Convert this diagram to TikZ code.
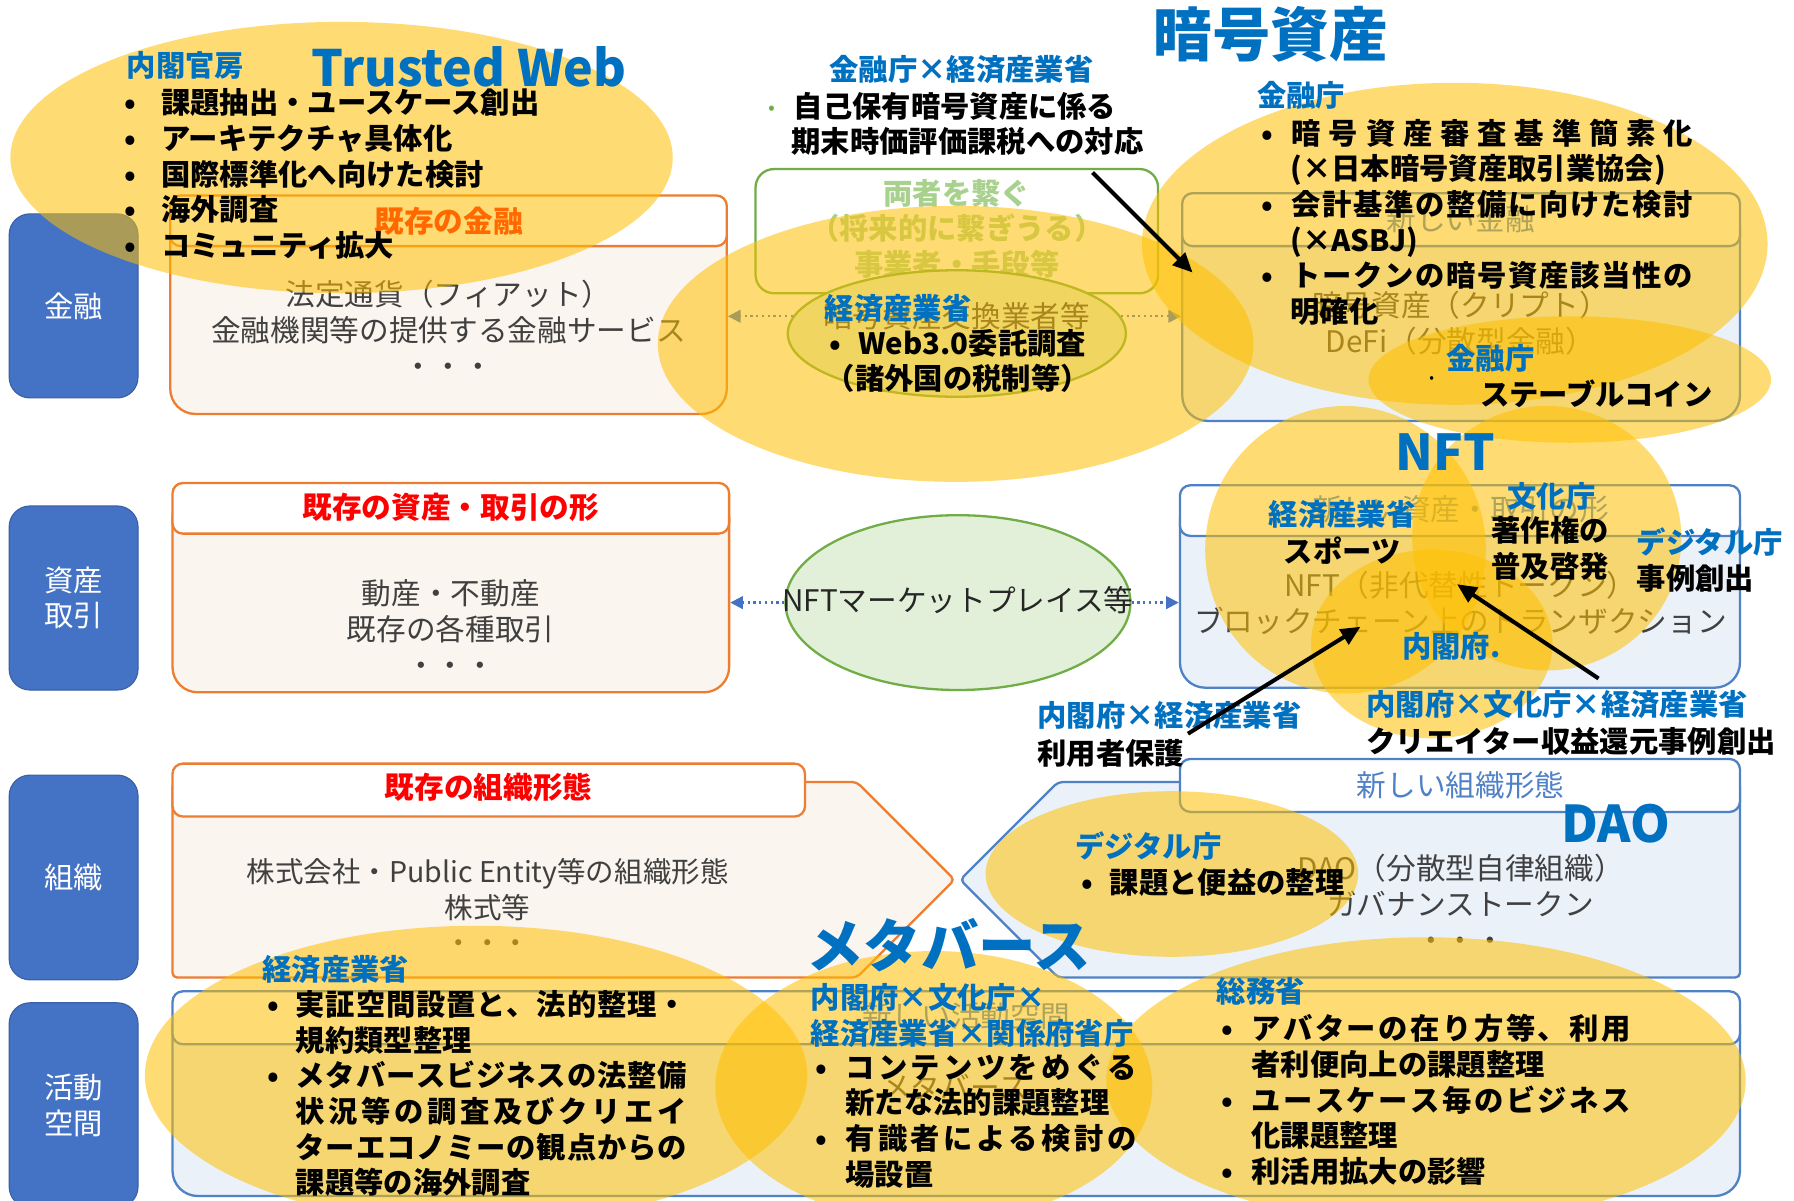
\documentclass[tikz,border=0pt]{standalone}
\usepackage{fontspec}
\setmainfont{Noto Sans CJK JP}
\usetikzlibrary{arrows.meta,shapes.geometric}
\definecolor{catblue}{HTML}{4472C4}
\definecolor{oorange}{HTML}{ED7D31}
\definecolor{beige}{HTML}{FBF5EF}
\definecolor{lblue}{HTML}{EAF1F9}
\definecolor{nblue}{HTML}{4F81C7}
\definecolor{tblue}{HTML}{0070C0}
\definecolor{gold}{HTML}{FFC000}
\definecolor{ggreen}{HTML}{70AD47}
\definecolor{lgreen}{HTML}{E2F0D9}
\definecolor{gtext}{HTML}{A9D18E}
\definecolor{dgray}{HTML}{404040}
\definecolor{rred}{HTML}{FF0000}
\definecolor{dotgreen}{HTML}{70AD47}
\newcommand\fsz[1]{\fontsize{#1}{31}\selectfont}
\newcommand\bl[1][26pt]{\makebox[#1][l]{•}}
\newcommand\ind[1][26pt]{\hspace*{#1}}
\makeatletter
\newcommand\spr[2]{\makebox[#1][s]{\spr@a#2\@nil}}
\def\spr@a#1#2\@nil{#1\ifx\relax#2\relax\else\hfil\spr@a#2\@nil\fi}
\makeatother
\tikzset{
  catbox/.style={rounded corners=18pt, fill=catblue, draw=catblue!85!black, line width=1pt, text=white, font=\fsz{25.5}, align=center, inner sep=0pt},
  oldbody/.style={draw=oorange, line width=2pt, fill=beige, rounded corners=22pt, inner sep=0pt},
  oldhead/.style={draw=oorange, line width=2pt, fill=white, rounded corners=9pt, inner sep=0pt},
  newbody/.style={draw=nblue, line width=2pt, fill=lblue, rounded corners=22pt, inner sep=0pt},
  newhead/.style={draw=nblue, line width=2pt, fill=white, rounded corners=9pt, inner sep=0pt},
  boxtxt/.style={text=dgray, font=\fsz{25.8}, align=center, inner sep=0pt},
  redtxt/.style={text=rred, font=\fsz{25.8}\bfseries, inner sep=0pt},
  newtxt/.style={text=nblue, font=\fsz{25.8}, inner sep=0pt},
  goldell/.style={ellipse, fill=gold, fill opacity=0.55, draw=none, inner sep=0pt},
  gell/.style={ellipse, draw=ggreen, line width=2pt, fill=lgreen, inner sep=0pt},
  lbl/.style={text=tblue, font=\fsz{25.5}\bfseries, inner sep=0pt},
  btxt/.style={text=black, font=\fsz{25.5}\bfseries, inner sep=0pt, align=left},
  bigt/.style={text=tblue, inner sep=0pt},
  blk/.style={line width=3.5pt, -{Triangle[length=17pt,width=15pt]}},
  dotar/.style={draw=catblue, line width=2pt, dash pattern=on 2pt off 3pt, -{Triangle[length=11pt,width=11pt]}}
}
\begin{document}
\begin{tikzpicture}[x=1pt,y=-1pt]
\path[use as bounding box, clip] (0,0) rectangle (1560,1044);
\fill[white] (0,0) rectangle (1560,1044);

% category boxes
\node[catbox, minimum width=112, minimum height=160] (catFin) at (64,266) {金融};
\node[catbox, minimum width=112, minimum height=160] (catAsset) at (64,520) {資産\\取引};
\node[catbox, minimum width=112, minimum height=178] (catOrg) at (64,763) {組織};
\node[catbox, minimum width=112, minimum height=178] (catSpace) at (64,961) {活動\\空間};

% existing boxes
\node[oldbody, minimum width=484, minimum height=184] (finOldBody) at (390,268) {};
\node[oldhead, minimum width=484, minimum height=44] (finOldHead) at (390,192) {};
\node[oldbody, minimum width=484, minimum height=174] (assetOldBody) at (392,515) {};
\node[oldhead, minimum width=484, minimum height=44] (assetOldHead) at (392,442) {};
\draw[oldbody, rounded corners=4pt] (150,700) -- (150,850) -- (745,850) -- (830,765) -- (745,680) -- (150,680) -- cycle;
\node[oldhead, minimum width=550, minimum height=46] (orgOldHead) at (425,687) {};

% new boxes
\node[newbody, minimum width=485, minimum height=190] (finNewBody) at (1270.5,271) {};
\node[newhead, minimum width=485, minimum height=46] (finNewHead) at (1270.5,191) {};
\node[newbody, minimum width=487, minimum height=168] (assetNewBody) at (1269.5,514) {};
\node[newhead, minimum width=487, minimum height=44] (assetNewHead) at (1269.5,444) {};
\draw[newbody, rounded corners=4pt] (920,680) -- (1513,680) -- (1513,850) -- (920,850) -- (835,765) -- cycle;
\node[newhead, minimum width=487, minimum height=46] (orgNewHead) at (1269.5,683) {};
\node[newbody, minimum width=1363, minimum height=170] (spaceBody) at (831.5,955) {};
\node[newhead, minimum width=1363, minimum height=46] (spaceHead) at (831.5,885) {};

% box texts
\node[redtxt] (t1) at (390,192) {既存の金融};
\node[boxtxt] (t2) at (390,286) {法定通貨（フィアット）\\金融機関等の提供する金融サービス\\・・・};
\node[redtxt] (t3) at (392,441) {既存の資産・取引の形};
\node[boxtxt] (t4) at (392,546) {動産・不動産\\既存の各種取引\\・・・};
\node[redtxt] (t5) at (425,685) {既存の組織形態};
\node[boxtxt, font=\fsz{24.8}] (t6) at (424,788) {株式会社・Public Entity等の組織形態\\株式等\\・・・};
\node[newtxt] (t7) at (1270,191) {新しい金融};
\node[boxtxt] (t8) at (1270,281) {暗号資産（クリプト）\\DeFi（分散型金融）};
\node[newtxt] (t9) at (1270,443) {新しい資産・取引の形};
\node[boxtxt] (t10) at (1270,524) {NFT（非代替性トークン）\\ブロックチェーン上のトランザクション};
\node[newtxt] (t11) at (1270,683) {新しい組織形態};
\node[boxtxt] (t12) at (1270,785) {DAO（分散型自律組織）\\ガバナンストークン\\・・・};
\node[newtxt] (t13) at (840,884) {新しい活動空間};
\node[boxtxt] (t14) at (830,945) {メタバース};

% bridge elements
\node[draw=ggreen, line width=2pt, rounded corners=16pt, minimum width=350, minimum height=108, inner sep=0pt] (bridge) at (832,201) {};
\node[text=gtext, font=\fsz{25.5}\bfseries, align=center, inner sep=0pt] (bridgeTxt) at (832,199) {両者を繋ぐ\\（将来的に繋ぎうる）\\事業者・手段等};
\node[gell, minimum width=294, minimum height=110] (exch) at (832,290) {};
\node[boxtxt] (exchTxt) at (832,275) {暗号資産交換業者等};
\draw[dotar] (exch.174) -- (finOldBody.east |- exch.174);
\draw[dotar] (exch.6) -- (finNewBody.west |- exch.6);
\node[gell, minimum width=300, minimum height=152] (market) at (833,524) {};
\node[boxtxt, text=black!85] (marketTxt) at (833,522) {NFTマーケットプレイス等};
\draw[dotar] (market.west) -- (assetOldBody.east |- market.west);
\draw[dotar] (market.east) -- (assetNewBody.west |- market.east);

% gold ellipses
\node[goldell, minimum width=576, minimum height=236] (eTW) at (297,137) {};
\node[goldell, minimum width=518, minimum height=240] (eCenter) at (831,299) {};
\node[goldell, minimum width=544, minimum height=280] (eCrypto) at (1265,212) {};
\node[goldell, minimum width=350, minimum height=110] (eStable) at (1365,330) {};
\node[goldell, minimum width=244, minimum height=250] (eNFT1) at (1170,478) {};
\node[goldell, minimum width=234, minimum height=230] (eNFT2) at (1345,468) {};
\node[goldell, minimum width=210, minimum height=164] (eNFT3) at (1245,560) {};
\node[goldell, minimum width=324, minimum height=144] (eDAO) at (1019,760) {};
\node[goldell, minimum width=576, minimum height=260] (eMeti) at (414,935) {};
\node[goldell, minimum width=380, minimum height=236] (eCab) at (812,945) {};
\node[goldell, minimum width=556, minimum height=250] (eMic) at (1240,940) {};

% titles
\node[bigt, font=\fontsize{43.5}{48}\selectfont\bfseries] (twTitle) at (408,58) {Trusted Web};
\node[bigt, font=\fontsize{51}{55}\selectfont\bfseries] (cryptoTitle) at (1105,30) {暗号資産};
\node[bigt, font=\fontsize{43}{46}\selectfont\bfseries] (nftTitle) at (1257,393) {NFT};
\node[bigt, font=\fontsize{44}{46}\selectfont\bfseries] (daoTitle) at (1405,716) {DAO};
\node[bigt, font=\fontsize{50}{54}\selectfont\bfseries] (metaTitle) at (825,822) {メタバース};

% Trusted Web
\node[lbl, anchor=west] (cabSec) at (110,57) {内閣官房};
\node[btxt, anchor=north west] (twList) at (108,77) {\bl[32pt]課題抽出・ユースケース創出\\\bl[32pt]アーキテクチャ具体化\\\bl[32pt]国際標準化へ向けた検討\\\bl[32pt]海外調査\\\bl[32pt]コミュニティ拡大};

% FSA x METI tax
\node[lbl] (fsaMeti) at (836,60) {金融庁×経済産業省};
\node[btxt, anchor=north west] (taxTxt) at (668,80) {\makebox[22pt][l]{\raisebox{3pt}{\textcolor{dotgreen}{\fontsize{14}{14}\selectfont •}}}自己保有暗号資産に係る\\\hspace*{20pt}期末時価評価課税への対応};
\coordinate (a0s) at (950,150);
\coordinate (a0e) at (1037,237);
\draw[blk] (a0s) -- (a0e);

% crypto FSA
\node[lbl, anchor=west] (fsa1) at (1093,83) {金融庁};
\node[btxt, anchor=north west] (fsaList) at (1097,103) {\bl\spr{349pt}{暗号資産審査基準簡素化}\\\ind[25pt](×日本暗号資産取引業協会)\\\bl\spr{349pt}{会計基準の整備に向けた検討}\\\ind[25pt](×ASBJ)\\\bl\spr{349pt}{トークンの暗号資産該当性の}\\\ind[25pt]明確化};
\node[lbl] (fsa2) at (1296,312) {金融庁};
\node[btxt, font=\fontsize{12}{12}\selectfont] (stBullet) at (1245,330) {•};
\node[btxt, anchor=west] (stable) at (1287,342) {ステーブルコイン};

% METI web3
\node[lbl] (meti1) at (781,268) {経済産業省};
\node[btxt, align=center] (web3) at (833,314) {\bl[25pt]Web3.0委託調査\\（諸外国の税制等）};

% NFT
\node[lbl] (meti2) at (1167,447) {経済産業省};
\node[btxt] (sports) at (1167,479) {スポーツ};
\node[lbl] (bunka) at (1349,432) {文化庁};
\node[btxt, align=center] (copyr) at (1348,477) {著作権の\\普及啓発};
\node[lbl, anchor=west] (digi1) at (1423,471) {デジタル庁};
\node[btxt, anchor=west] (jirei) at (1423,503) {事例創出};
\node[lbl] (cab1) at (1262,562) {内閣府.};
\node[lbl, anchor=west] (cabMeti) at (902,622) {内閣府×経済産業省};
\node[btxt, anchor=west] (userProt) at (902,655) {利用者保護};
\node[lbl, anchor=west] (cabBunka) at (1188,613) {内閣府×文化庁×経済産業省};
\node[btxt, anchor=west] (creator) at (1188,645) {クリエイター収益還元事例創出};
\coordinate (a1s) at (1033,638);
\coordinate (a1e) at (1183,545);
\coordinate (a2s) at (1390,590);
\coordinate (a2e) at (1267,508);
\draw[blk] (a1s) -- (a1e);
\draw[blk] (a2s) -- (a2e);

% DAO
\node[lbl, anchor=west] (digi2) at (935,736) {デジタル庁};
\node[btxt, anchor=north west] (daoList) at (940,755) {\bl[25pt]課題と便益の整理};

% metaverse
\node[lbl, anchor=west] (meti3) at (228,843) {経済産業省};
\node[btxt, anchor=north west] (metiList) at (232,861) {\bl[25pt]\spr{340pt}{実証空間設置と、法的整理・}\\\ind[25pt]規約類型整理\\\bl[25pt]\spr{340pt}{メタバースビジネスの法整備}\\\ind[25pt]\spr{340pt}{状況等の調査及びクリエイ}\\\ind[25pt]\spr{340pt}{ターエコノミーの観点からの}\\\ind[25pt]課題等の海外調査};
\node[lbl, anchor=north west, align=left] (cabList0) at (705,855) {内閣府×文化庁×\\経済産業省×関係府省庁};
\node[btxt, anchor=north west] (cabList) at (709,916) {\bl\spr{253pt}{コンテンツをめぐる}\\\ind 新たな法的課題整理\\\bl\spr{253pt}{有識者による検討の}\\\ind 場設置};
\node[lbl, anchor=west] (mic) at (1058,862) {総務省};
\node[btxt, anchor=north west] (micList) at (1062,882) {\bl\spr{330pt}{アバターの在り方等、利用}\\\ind 者利便向上の課題整理\\\bl\spr{330pt}{ユースケース毎のビジネス}\\\ind 化課題整理\\\bl 利活用拡大の影響};
\end{tikzpicture}
\end{document}
